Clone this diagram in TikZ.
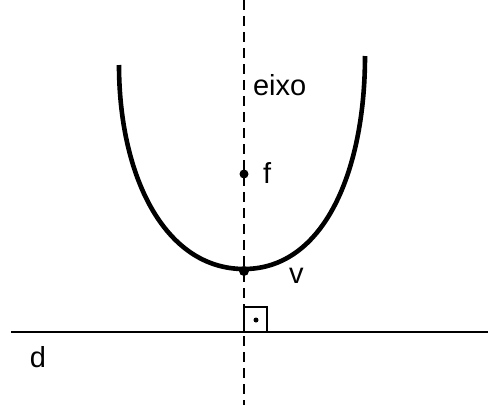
\documentclass[tikz,border=0pt]{standalone}
\usepackage{fontspec}
\setmainfont{Liberation Sans}
\usetikzlibrary{positioning}
\tikzset{
  lbl/.style={anchor=base west, inner sep=0pt, font=\fontsize{29}{34}\selectfont},
  ponto/.style={circle, fill=black, inner sep=0pt, minimum size=#1},
  ponto/.default=9pt
}
\begin{document}
\begin{tikzpicture}[x=1pt, y=-1pt, line width=2pt]
  \useasboundingbox (0,0) rectangle (488,405);
  % eixo e diretriz
  \coordinate (eixotop) at (244,0);
  \coordinate (eixobot) at (244,405);
  \coordinate (dl) at (11,332);
  \coordinate (dr) at (488,332);
  \draw[dash pattern=on 10pt off 6pt] (eixotop) -- (eixobot);
  \draw (dl) -- (dr);
  % parabola
  \coordinate (pl) at (119,65);
  \coordinate (pr) at (365,56);
  \coordinate (vc) at (244,269);
  \draw[line width=4.6pt] (pl) .. controls (119,175) and (164,269) .. (vc)
        .. controls (324,269) and (365,171) .. (pr);
  \node[ponto] (f) at (244,174) {};
  \node[ponto=10pt] (v) at (244,271) {};
  % angulo reto
  \coordinate (pe) at (244,332);
  \draw[line width=1.5pt] (pe) rectangle ++(23,-25);
  \node[ponto=5pt] (q) at (256,320) {};
  % rotulos
  \node[lbl] (leixo) at (252,95) {eixo};
  \node[lbl] (lf) at (262,183) {f};
  \node[lbl] (lv) at (288,283) {v};
  \node[lbl] (ld) at (29,367) {d};
\end{tikzpicture}
\end{document}
